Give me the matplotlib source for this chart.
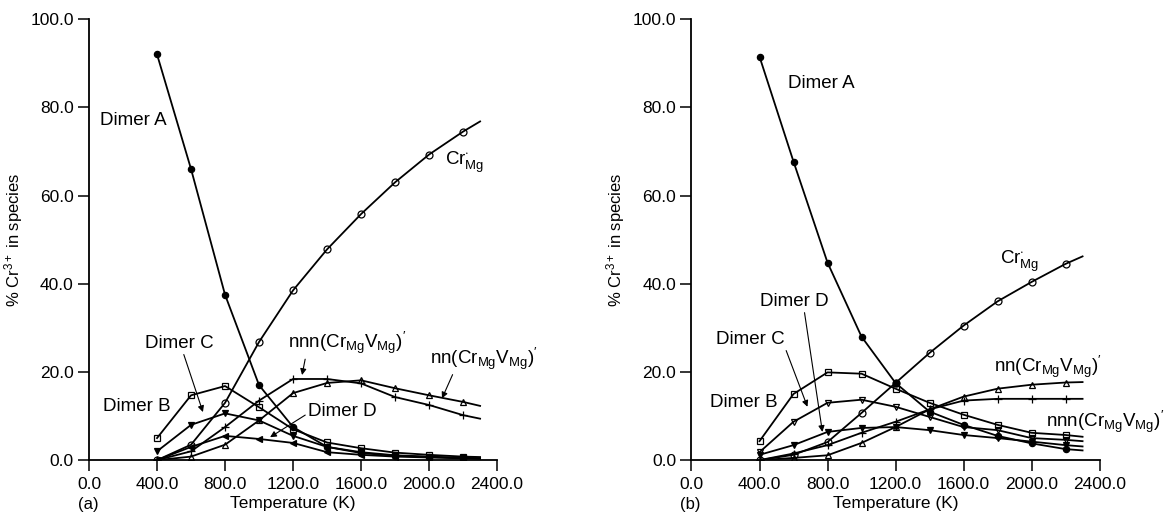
import matplotlib
matplotlib.use("Agg")
import matplotlib.pyplot as plt

plt.rcParams['font.family'] = ['Liberation Sans', 'DejaVu Sans']
plt.rcParams['mathtext.fontset'] = 'custom'
plt.rcParams['mathtext.rm'] = 'Liberation Sans'
plt.rcParams['mathtext.it'] = 'Liberation Sans:italic'
plt.rcParams['mathtext.bf'] = 'Liberation Sans:bold'

# temperatures of the computed points, plus the end of each drawn curve
temps = [400, 600, 800, 1000, 1200, 1400, 1600, 1800, 2000, 2200, 2300]

# panel (a)
a_dimer_a = [92, 66, 37.5, 17, 7.5, 3, 1.6, 1.0, 0.7, 0.5, 0.4]
a_dimer_b = [5, 14.7, 16.8, 12, 7, 4, 2.7, 1.7, 1.2, 0.8, 0.7]
a_dimer_c = [2, 8, 10.6, 9, 5.5, 3, 1.8, 1.1, 0.8, 0.5, 0.4]
a_dimer_d = [0, 3, 5.5, 4.8, 3.9, 1.8, 1.2, 0.8, 0.6, 0.4, 0.3]
a_cr = [0, 3.5, 13, 26.8, 38.5, 47.8, 55.8, 63, 69.3, 74.5, 76.8]
a_nnn = [0, 2, 7.5, 13.5, 18.4, 18.4, 17.4, 14.3, 12.5, 10.2, 9.4]
a_nn = [0, 0.8, 3.5, 9, 15.2, 17.5, 18.1, 16.3, 14.7, 13.2, 12.3]

# panel (b)
b_dimer_a = [91.5, 67.7, 44.8, 28, 17.5, 11, 8, 5.5, 3.8, 2.5, 2.2]
b_dimer_b = [4.3, 15, 19.9, 19.6, 16.2, 13, 10.3, 8, 6.2, 5.7, 5.3]
b_dimer_c = [1.8, 8.7, 13, 13.7, 12.1, 9.8, 7.5, 6.8, 5, 4.6, 4.3]
b_dimer_d = [1.2, 3.4, 6.4, 7.3, 7.5, 6.8, 5.7, 5, 4.2, 3.4, 3.1]
b_cr = [0, 1.2, 4.1, 10.7, 17.5, 24.3, 30.5, 36, 40.4, 44.5, 46.2]
b_nnn = [0, 1.5, 3.4, 6.2, 8.7, 11.5, 13.5, 13.9, 13.9, 13.9, 13.9]
b_nn = [0, 0.5, 1.1, 3.9, 7.5, 11.5, 14.4, 16.2, 17.1, 17.6, 17.7]

xticks = [0, 400, 800, 1200, 1600, 2000, 2400]
yticks = [0, 20, 40, 60, 80, 100]

cr_lbl = r"Cr$^{\cdot}_{\mathregular{Mg}}$"
nnn_lbl = r"nnn(Cr$_{\mathregular{Mg}}$V$_{\mathregular{Mg}}$)$^{\prime}$"
nn_lbl = r"nn(Cr$_{\mathregular{Mg}}$V$_{\mathregular{Mg}}$)$^{\prime}$"

fig = plt.figure(figsize=(11.76, 5.17), dpi=100)
ax1 = fig.add_axes([0.0757, 0.110, 0.347, 0.853])
ax2 = fig.add_axes([0.588, 0.110, 0.347, 0.853])

FS = 13.5


def draw(ax, series, styl):
    for vals, (m, fc, ms) in zip(series, styl):
        ax.plot(temps, vals, color='k', lw=1.3, marker=m, ms=ms, mfc=fc,
                mec='k', mew=0.9, markevery=list(range(10)))
    ax.set_xlim(0, 2400)
    ax.set_ylim(0, 100)
    ax.set_xticks(xticks)
    ax.set_xticklabels([f"{t:.1f}" for t in xticks])
    ax.set_yticks(yticks)
    ax.set_yticklabels([f"{v:.1f}" for v in yticks])
    for s in ['top', 'right']:
        ax.spines[s].set_visible(False)
    for s in ['left', 'bottom']:
        ax.spines[s].set_linewidth(1.3)
    ax.tick_params(direction='out', length=8, width=1.1, labelsize=12.5, pad=3)
    ax.tick_params(axis='x', pad=4)
    ax.set_xlabel("Temperature (K)", fontsize=12.5, labelpad=3)
    ax.set_ylabel(r"% Cr$^{3+}$ in species", fontsize=12, labelpad=4)


def arrow(rel):
    return dict(arrowstyle='-|>', color='k', lw=0.8, mutation_scale=9,
                shrinkA=0, shrinkB=0, relpos=rel)


line_styles_a = [('o', 'k', 4.5), ('s', 'none', 4.5), ('v', 'k', 5), ('<', 'k', 4),
                 ('o', 'none', 5), ('+', 'k', 6), ('^', 'none', 5)]
line_styles_b = [('o', 'k', 4.5), ('s', 'none', 4.5), ('v', 'none', 5), ('v', 'k', 5),
                 ('o', 'none', 5), ('+', 'k', 6), ('^', 'none', 5)]

# panel (a)
draw(ax1, [a_dimer_a, a_dimer_b, a_dimer_c, a_dimer_d, a_cr, a_nnn, a_nn], line_styles_a)
ax1.text(65, 77, "Dimer A", fontsize=FS, va='center')
ax1.text(82, 12.2, "Dimer B", fontsize=FS, va='center')
ax1.text(2094, 67.6, cr_lbl, fontsize=FS, va='center')
ax1.annotate("Dimer C", xy=(670, 10.9), xytext=(330, 26.5), fontsize=FS, va='center',
             arrowprops=arrow((0.55, 0)))
ax1.annotate(nnn_lbl, xy=(1253, 19.3), xytext=(1170, 26.5), fontsize=FS, va='center',
             arrowprops=arrow((0.15, 0)))
ax1.annotate(nn_lbl, xy=(2076, 14), xytext=(2006, 23), fontsize=FS, va='center',
             arrowprops=arrow((0.22, 0)))
ax1.annotate("Dimer D", xy=(1065, 5.2), xytext=(1288, 11), fontsize=FS, va='center',
             arrowprops=arrow((0, 0.4)))
fig.text(0.066, 0.015, "(a)", fontsize=12)

# panel (b)
draw(ax2, [b_dimer_a, b_dimer_b, b_dimer_c, b_dimer_d, b_cr, b_nnn, b_nn], line_styles_b)
ax2.text(565, 85.4, "Dimer A", fontsize=FS, va='center')
ax2.text(106, 13, "Dimer B", fontsize=FS, va='center')
ax2.text(1812, 45, cr_lbl, fontsize=FS, va='center')
ax2.text(1782, 21.2, nn_lbl, fontsize=FS, va='center')
ax2.text(2085, 8.7, nnn_lbl, fontsize=FS, va='center')
ax2.annotate("Dimer C", xy=(682, 12.1), xytext=(147, 27.4), fontsize=FS, va='center',
             arrowprops=arrow((1.0, 0)))
ax2.annotate("Dimer D", xy=(770, 6.4), xytext=(400, 36), fontsize=FS, va='center',
             arrowprops=arrow((0.65, 0)))
fig.text(0.578, 0.015, "(b)", fontsize=12)

fig.savefig("out.png", dpi=100)
